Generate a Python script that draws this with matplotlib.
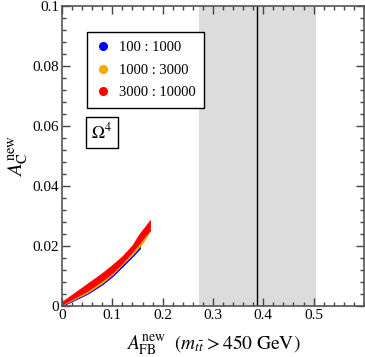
import numpy as np
import matplotlib
matplotlib.use("Agg")
import matplotlib.pyplot as plt
from matplotlib.lines import Line2D
from matplotlib.ticker import MultipleLocator

plt.rcParams['font.family'] = ['Liberation Serif', 'DejaVu Serif']
plt.rcParams['mathtext.fontset'] = 'stix'

# scan regions, edges of each band
blue_x = [0.0, 0.02, 0.05, 0.08, 0.10, 0.12, 0.14, 0.155]
blue_lo = [0.0, 0.0016, 0.0040, 0.0072, 0.0099, 0.0132, 0.0165, 0.0192]
blue_hi = [0.0010, 0.0030, 0.0060, 0.0094, 0.0121, 0.0152, 0.0185, 0.0207]

orange_x = [0.0, 0.02, 0.05, 0.08, 0.10, 0.12, 0.14, 0.16, 0.172]
orange_lo = [0.0003, 0.0019, 0.0044, 0.0077, 0.0105, 0.0139, 0.0171, 0.0210, 0.0242]
orange_hi = [0.0012, 0.0034, 0.0065, 0.0099, 0.0128, 0.0160, 0.0198, 0.0246, 0.0270]

red_x = [0.0, 0.02, 0.05, 0.08, 0.10, 0.12, 0.14, 0.155, 0.165, 0.175]
red_lo = [0.0005, 0.0023, 0.0050, 0.0085, 0.0111, 0.0144, 0.0182, 0.0212, 0.0234, 0.0252]
red_hi = [0.0014, 0.0038, 0.0074, 0.0110, 0.0137, 0.0166, 0.0203, 0.0243, 0.0264, 0.0286]

labels = ['100 : 1000', '1000 : 3000', '3000 : 10000']
colors = ['#0000ff', '#ffa500', '#ff0000']

# measured A_FB band
afb_center = 0.388
afb_lo = 0.272
afb_hi = 0.504

fig = plt.figure(figsize=(3.65, 3.57), dpi=100)
ax = fig.add_axes([0.170, 0.143, 0.827, 0.840])

ax.axvspan(afb_lo, afb_hi, color='#dcdcdc', lw=0, zorder=0)
ax.axvline(afb_center, color='black', lw=1.0, zorder=1)

for xs, lo, hi, c in [(blue_x, blue_lo, blue_hi, colors[0]),
                      (orange_x, orange_lo, orange_hi, colors[1]),
                      (red_x, red_lo, red_hi, colors[2])]:
    ax.fill_between(xs, lo, hi, color=c, lw=0.6, edgecolor=c, zorder=2)

ax.set_xlim(0, 0.6)
ax.set_ylim(0, 0.1)
ax.set_xticks([0, 0.1, 0.2, 0.3, 0.4, 0.5])
ax.set_xticklabels(['0', '0.1', '0.2', '0.3', '0.4', '0.5'])
ax.set_yticks([0, 0.02, 0.04, 0.06, 0.08, 0.1])
ax.set_yticklabels(['0', '0.02', '0.04', '0.06', '0.08', '0.1'])
ax.xaxis.set_minor_locator(MultipleLocator(0.02))
ax.yaxis.set_minor_locator(MultipleLocator(0.004))
ax.tick_params(which='both', direction='in', top=True, right=True,
               labelsize=11, color='#444444', pad=2)
ax.tick_params(which='major', length=6, width=1)
ax.tick_params(which='minor', length=3, width=1)
for s in ax.spines.values():
    s.set_color('#555555')
    s.set_linewidth(1.2)

ax.set_xlabel(r'$A_{\rm FB}^{\rm new}\ \ (m_{t\bar{t}} > 450\ {\rm GeV})$',
              fontsize=14, labelpad=8)
ax.set_ylabel(r'$A_{\rm C}^{\rm new}$', fontsize=15, labelpad=2)

handles = [Line2D([], [], ls='none', marker='o', ms=5.5, color=c) for c in colors]
leg = ax.legend(handles, labels, loc='upper left', bbox_to_anchor=(0.084, 0.912),
                borderaxespad=0, fontsize=10.5, frameon=True, fancybox=False,
                handletextpad=0.65, borderpad=0.6, labelspacing=0.62,
                handlelength=0.9, framealpha=1)
leg.get_frame().set_edgecolor('black')
leg.get_frame().set_linewidth(1.0)

ax.text(0.132, 0.578, r'$\Omega^4$', transform=ax.transAxes, fontsize=12.5,
        ha='center', va='center',
        bbox=dict(boxstyle='square,pad=0.3', fc='white', ec='black', lw=1.0))

fig.savefig('out.png', dpi=100)
